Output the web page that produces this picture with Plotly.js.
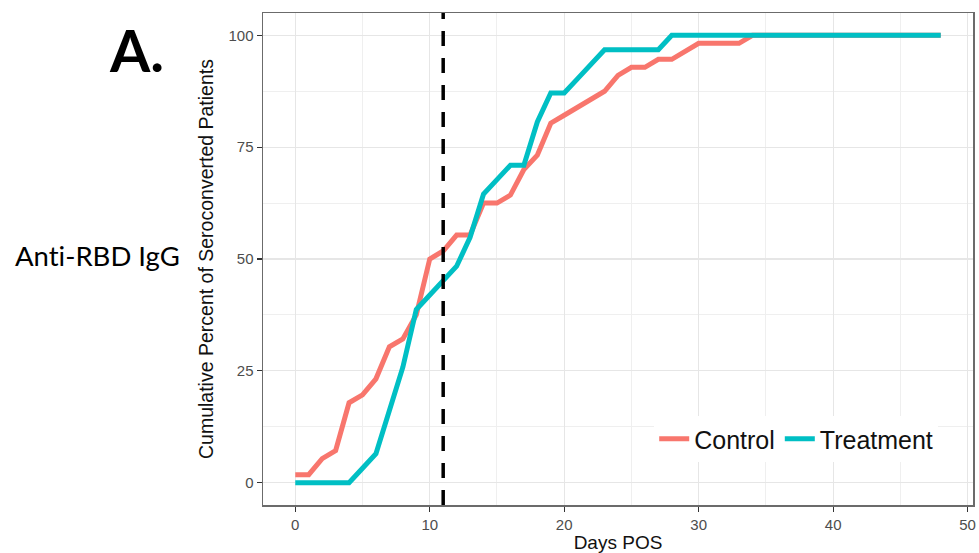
<!DOCTYPE html>
<html>
<head>
<meta charset="utf-8">
<script src="https://cdn.plot.ly/plotly-3.0.1.min.js"></script>
<style>
  html, body { margin: 0; padding: 0; background: #ffffff; }
  #chart { width: 979px; height: 553px; }
</style>
</head>
<body>
<div id="chart"></div>
<script>
// Days post onset of symptoms
const days = [0,1,2,3,4,5,6,7,8,9,10,11,12,13,14,15,16,17,18,19,20,21,22,23,24,25,26,27,28,29,30,31,32,33,34,35,36,37,38,39,40,41,42,43,44,45,46,47,48];

// Cumulative percent of seroconverted patients
const control = [1.79,1.79,5.36,7.14,17.86,19.64,23.21,30.36,32.14,37.5,50,51.79,55.36,55.36,62.5,62.5,64.29,70,73.21,80.36,82.14,83.93,85.71,87.5,91.07,92.86,92.86,94.64,94.64,96.43,98.21,98.21,98.21,98.21,100,100,100,100,100,100,100,100,100,100,100,100,100,100,100];
const treatment = [0,0,0,0,0,3.23,6.45,16.13,25.81,38.71,41.94,45.16,48.39,54.84,64.52,67.74,70.97,70.97,80.65,87.1,87.1,90.32,93.55,96.77,96.77,96.77,96.77,96.77,100,100,100,100,100,100,100,100,100,100,100,100,100,100,100,100,100,100,100,100,100];

const seriesNames = ["Control", "Treatment"];
const xTicks = [0,10,20,30,40,50];
const yTicks = [0,25,50,75,100];
const cutoffDay = [11];

const traces = [
  {x: days, y: control, type: "scatter", mode: "lines", name: seriesNames[0],
   line: {color: "#F8766D", width: 5}},
  {x: days, y: treatment, type: "scatter", mode: "lines", name: seriesNames[1],
   line: {color: "#00BFC4", width: 5}}
];

const sans = "Liberation Sans, Arial, sans-serif";
const tickFont = {family: sans, size: 15, color: "#4D4D4D"};
const gridCol = "#E6E6E6";
const minorCol = "#EFEFEF";

const layout = {
  width: 979, height: 553,
  margin: {l: 263, r: 6, t: 13, b: 48},
  paper_bgcolor: "#ffffff",
  plot_bgcolor: "#ffffff",
  showlegend: true,
  legend: {
    orientation: "h", x: 0.951, xanchor: "right", y: 0.134, yanchor: "middle",
    bgcolor: "#ffffff", font: {family: sans, size: 25, color: "#111111"},
    itemwidth: 30, tracegroupgap: 0
  },
  xaxis: {
    range: [-2.4, 50.4], tickvals: xTicks, ticktext: xTicks.map(String),
    showgrid: true, gridcolor: gridCol, gridwidth: 1.2,
    minor: {dtick: 5, tick0: 0, showgrid: true, gridcolor: minorCol, gridwidth: 1},
    zeroline: false, showline: true, mirror: true, linecolor: "#6b6b6b", linewidth: 1.5,
    ticks: "outside", ticklen: 5, tickcolor: "#333333", tickwidth: 1.3,
    tickfont: tickFont,
    title: {text: "Days POS", standoff: 7, font: {family: sans, size: 19, color: "#111111"}}
  },
  yaxis: {
    range: [-5, 105], tickvals: yTicks, ticktext: yTicks.map(String),
    showgrid: true, gridcolor: gridCol, gridwidth: 1.2,
    minor: {dtick: 12.5, tick0: 0, showgrid: true, gridcolor: minorCol, gridwidth: 1},
    zeroline: false, showline: true, mirror: true, linecolor: "#6b6b6b", linewidth: 1.5,
    ticks: "outside", ticklen: 5, tickcolor: "#333333", tickwidth: 1.3,
    tickfont: tickFont,
    title: {text: "Cumulative Percent of Seroconverted Patients", standoff: 9,
            font: {family: sans, size: 19.5, color: "#111111"}}
  },
  shapes: [{
    type: "line", xref: "x", yref: "paper", x0: cutoffDay[0], x1: cutoffDay[0], y0: 0, y1: 1,
    line: {color: "#000000", width: 3.5, dash: "15px,12px"}, layer: "above"
  }],
  annotations: [
    {text: "<b>A.</b>", xref: "paper", yref: "paper", x: -0.1775, y: 0.925, xanchor: "center", yanchor: "middle",
     showarrow: false, font: {family: "Lato, Open Sans, sans-serif", size: 58, color: "#000000"}},
    {text: "Ant\u200Ci-RBD IgG", xref: "paper", yref: "paper", x: -0.233, y: 0.508, xanchor: "center", yanchor: "middle",
     showarrow: false, font: {family: "Lato, Open Sans, sans-serif", size: 27.5, color: "#000000"}}
  ]
};

Plotly.newPlot("chart", traces, layout, {displayModeBar: false, staticPlot: true});
</script>
</body>
</html>
